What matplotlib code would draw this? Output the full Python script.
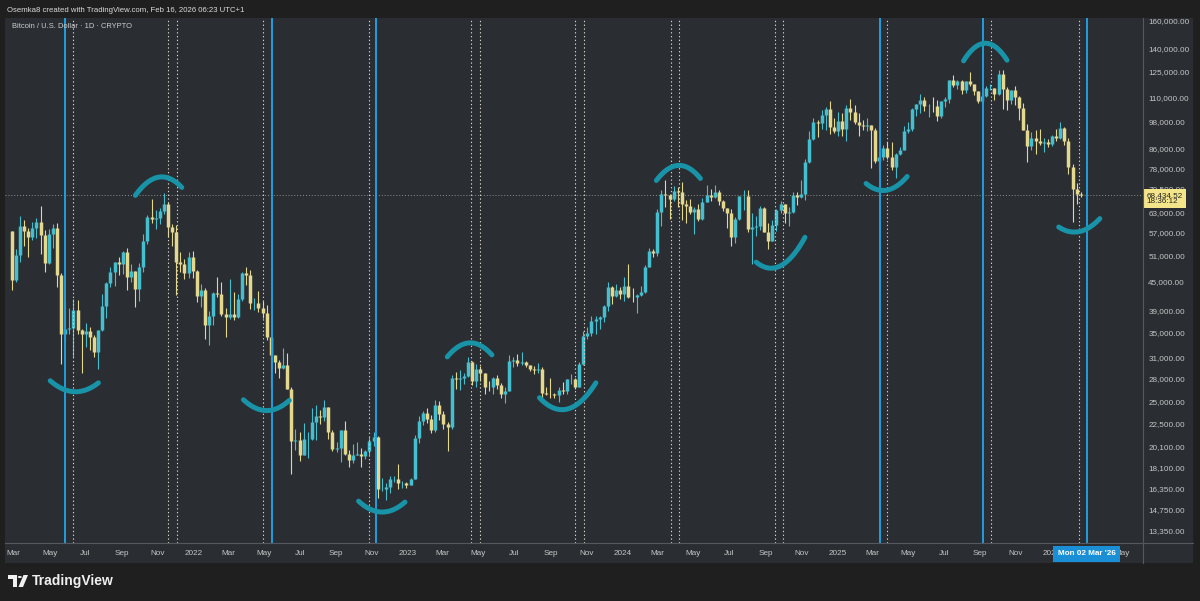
import numpy as np
import pandas as pd
import matplotlib.pyplot as plt
import matplotlib.dates as mdates
from matplotlib.patches import Rectangle, Polygon, Circle
from matplotlib.lines import Line2D
from matplotlib.transforms import blended_transform_factory, ScaledTranslation
from matplotlib.ticker import NullLocator

plt.rcParams['font.family'] = ['Liberation Sans', 'DejaVu Sans']

# weekly BTC candles (week starting Monday)
first_open = 57400
close = [
    # 2021
    45200, 51200, 59000, 57400, 55800, 58200, 60000, 56200, 49100, 56600,
    58200, 46400, 34700, 35700, 35800, 39100, 35500, 34700, 35300, 34300,
    31800, 35400, 39900, 44600, 47100, 49300, 48800, 51800, 46000, 47300,
    43200, 48200, 54800, 61500, 60900, 61300, 63300, 65500, 58600, 57200,
    49400, 48900, 46700, 50700, 47300,
    # 2022
    41800, 43100, 36300, 37900, 42400, 42200, 38400, 37700, 38400, 37800,
    41300, 46800, 46400, 40400, 40400, 39500, 38500, 34300, 31300, 30300,
    29400, 29900, 26600, 20600, 20700, 19300, 20800, 20800, 22600, 23300,
    23200, 24300, 21500, 19800, 19900, 21800, 19400, 18800, 19300, 19400,
    19200, 19600, 20600, 21000, 16300, 16300, 16500, 17100, 17100, 16800,
    16800, 16600,
    # 2023
    17100, 20900, 22700, 23700, 23000, 21800, 24600, 23500, 22400, 22100,
    28000, 27900, 28100, 28300, 30300, 27600, 29300, 28700, 26900, 26800,
    28100, 27100, 25900, 26300, 30500, 30600, 30200, 30300, 29900, 29300,
    29100, 29300, 26100, 26000, 25900, 25800, 26500, 26300, 27900, 27900,
    26900, 30000, 34500, 35000, 37000, 37400, 37700, 39900, 43800, 41900,
    43000, 42300,
    # 2024
    43900, 41700, 41600, 42000, 42600, 48300, 52100, 51700, 63100, 68900,
    68400, 67200, 69700, 69400, 65600, 64900, 63100, 63900, 60800, 66300,
    68500, 67800, 69600, 66600, 64300, 62700, 55900, 60800, 68200, 68200,
    58100, 58700, 58900, 64200, 57300, 54800, 59100, 63600, 65600, 62800,
    62900, 68400, 67900, 68800, 80400, 89800, 97900, 97300, 101200, 104300,
    95200, 93700, 98300,
    # 2025
    94500, 104500, 102600, 97700, 96500, 96100, 96300, 94200, 80700, 82600,
    86100, 82300, 78400, 83700, 85100, 93700, 94300, 104100, 106500, 109000,
    105700, 105700, 105600, 100900, 108400, 109200, 119800, 117300, 119400, 114200,
    119300, 117400, 113500, 108300, 111100, 115300, 115300, 112200, 123500, 115000,
    108600, 114500, 110600, 104700, 94200, 86800, 90400, 89200, 88200, 88500,
    87800, 91500,
    # 2026
    90500, 95000, 89000, 78500, 70500, 68800, 68434.52,
]
high = [
    57500, 52600, 61800, 60600, 58400, 60000, 61300, 64900, 57600, 58000,
    59500, 59600, 46700, 40900, 39500, 41300, 41100, 35700, 36600, 35900,
    34600, 35400, 42300, 44700, 48100, 49300, 50500, 52000, 52900, 48800,
    47300, 49200, 56500, 62000, 67000, 63700, 64300, 69000, 66300, 59400,
    59200, 51900, 50200, 51800, 52100,
    47600, 44400, 43500, 38900, 42600, 45800, 44800, 39500, 45400, 42600,
    42300, 47000, 48200, 47400, 41500, 42900, 40800, 40000, 34300, 31300,
    30600, 32400, 31700, 26900, 21900, 21500, 22500, 21600, 24200, 24600,
    24000, 25200, 24400, 21800, 20500, 21800, 22700, 19700, 20300, 20500,
    19900, 19700, 21000, 21500, 21100, 17200, 16800, 17400, 17400, 18400,
    17000, 16900,
    17200, 21200, 23300, 23900, 24200, 23400, 25200, 25100, 23900, 22600,
    28400, 28900, 29100, 28800, 31000, 30500, 30000, 29800, 28800, 27600,
    28200, 28400, 27400, 26800, 31400, 31000, 31500, 31800, 30400, 29900,
    29700, 30200, 29600, 26800, 28100, 26100, 26900, 27500, 27900, 28600,
    28000, 30300, 35200, 35900, 37900, 37900, 38000, 40000, 44700, 44000,
    44300, 43800,
    45900, 49000, 43600, 42300, 43900, 48600, 52800, 52600, 64000, 70000,
    73800, 68800, 71700, 71300, 72800, 66800, 67200, 64700, 65500, 67400,
    71900, 70600, 71900, 70100, 66900, 63300, 63800, 61400, 68300, 70000,
    70000, 62700, 61800, 65000, 64500, 59800, 60700, 64100, 66500, 65600,
    64500, 69400, 69500, 73600, 81500, 93400, 99600, 98900, 103900, 105200,
    108300, 99900, 102700,
    102300, 106400, 109600, 106400, 102000, 98800, 99500, 96500, 95000, 84300,
    87500, 88800, 88500, 84000, 86400, 95800, 97900, 104900, 106600, 112000,
    110700, 106800, 110500, 108900, 108500, 110500, 119900, 123200, 120200, 120000,
    119300, 124500, 117400, 113500, 113400, 116800, 117900, 115400, 125700, 126200,
    115900, 114500, 116400, 110800, 107400, 96600, 93100, 94100, 94600, 90300,
    90000, 91800,
    94700, 97900, 95500, 90500, 79500, 72500, 69500,
]
low = [
    43000, 44900, 49300, 53300, 50500, 55000, 55500, 51300, 47000, 48800,
    53000, 43800, 30000, 33400, 34800, 31100, 34800, 28800, 32700, 32100,
    31100, 29300, 35200, 37500, 43800, 43900, 46400, 46600, 43000, 44800,
    39600, 40800, 47100, 53900, 59600, 58000, 59400, 62300, 55700, 53300,
    42000, 47100, 45500, 45600, 45700,
    40600, 39700, 34000, 32900, 36300, 41700, 38000, 34300, 37400, 37200,
    37600, 40900, 44200, 39200, 39000, 38700, 37600, 33700, 26700, 28700,
    28000, 29300, 26600, 17600, 19700, 18700, 19300, 19000, 20700, 20700,
    22400, 22700, 20800, 19600, 19500, 18600, 19300, 18200, 18500, 19300,
    18200, 18900, 19300, 20100, 15600, 16200, 15500, 16000, 16900, 16300,
    16400, 16400,
    16600, 17100, 20400, 22300, 22500, 21400, 21500, 22800, 21900, 19600,
    21900, 26600, 26500, 27200, 28200, 27100, 26900, 27700, 25900, 26300,
    25900, 26600, 25400, 24800, 26300, 29600, 29700, 29900, 29600, 29000,
    28600, 28800, 25200, 25800, 25400, 25400, 24900, 26000, 26000, 27200,
    26600, 26900, 29900, 33900, 34500, 34800, 35600, 36900, 38900, 40200,
    41700, 41300,
    40800, 41500, 40700, 38500, 41900, 42500, 48200, 50600, 50900, 59000,
    64600, 60800, 66600, 64500, 60700, 59600, 62400, 56500, 60200, 60700,
    66300, 66600, 67600, 65100, 63400, 58400, 53500, 54300, 60600, 63500,
    57100, 49000, 56100, 57800, 57200, 52500, 54600, 57500, 62700, 59800,
    58900, 62800, 65100, 67500, 66800, 80200, 89400, 90800, 94600, 94200,
    92200, 92600, 91300,
    91200, 89200, 98800, 97000, 91200, 94100, 93400, 78200, 80000, 76600,
    81200, 81600, 77200, 74500, 83100, 85100, 92800, 93400, 100700, 102100,
    103100, 100400, 102700, 98200, 99600, 105100, 107500, 115800, 114700, 112000,
    112700, 116800, 111700, 107300, 107300, 110600, 114400, 108600, 111600, 104000,
    103500, 106800, 106300, 98900, 94000, 80600, 85300, 83800, 87500, 84400,
    86500, 86800,
    89300, 90000, 87300, 76000, 60000, 65500, 67800,
]
weeks = pd.date_range('2021-02-22', periods=len(close), freq='7D')

# cycle markers
cycle_dates = ['2021-05-27', '2022-05-15', '2022-11-08', '2025-03-14', '2025-09-06', '2026-03-02']
dotted_dates = ['2021-06-09', '2021-11-19', '2021-12-04', '2022-04-29', '2022-10-26',
                '2023-04-18', '2023-05-03', '2023-10-13', '2023-10-27', '2024-03-24',
                '2024-04-07', '2024-09-17', '2024-10-01', '2025-03-27', '2025-09-19',
                '2026-02-16']

# hand drawn arcs: (left, middle, right) date and price
arc_dates = [
    ('2021-05-02', '2021-06-16', '2021-07-23'),
    ('2021-09-24', '2021-10-31', '2021-12-12'),
    ('2022-03-27', '2022-05-11', '2022-06-13'),
    ('2022-10-09', '2022-11-15', '2022-12-27'),
    ('2023-03-09', '2023-04-15', '2023-05-24'),
    ('2023-08-13', '2023-09-20', '2023-11-17'),
    ('2024-02-28', '2024-04-04', '2024-05-13'),
    ('2024-08-16', '2024-09-12', '2024-11-07'),
    ('2025-02-19', '2025-03-22', '2025-04-30'),
    ('2025-08-04', '2025-09-05', '2025-10-17'),
    ('2026-01-13', '2026-02-19', '2026-03-24'),
]
arc_prices = [
    (27670, 26230, 27390),
    (68340, 74580, 71040),
    (25220, 23950, 25140),
    (15380, 14590, 15310),
    (31090, 33280, 31390),
    (25470, 24030, 27390),
    (73500, 79070, 74220),
    (49340, 47920, 55710),
    (72430, 70010, 74940),
    (131730, 143280, 132160),
    (58570, 57360, 61030),
]

price_ticks = [13350, 14750, 16350, 18100, 20100, 22500, 25000, 28000, 31000, 35000,
               39000, 45000, 51000, 57000, 63000, 70500, 78000, 86000, 98000, 110000,
               125000, 140000, 160000]
last_price = 68434.52
countdown = '18:36:12'
cursor_label = "Mon 02 Mar '26"
header = 'Osemka8 created with TradingView.com, Feb 16, 2026 06:23 UTC+1'
legend = 'Bitcoin / U.S. Dollar · 1D · CRYPTO'

bg = '#1f1f1f'
panel = '#2a2d32'
up_col = '#45bfcf'
down_col = '#e4d78e'
arc_col = '#1893a7'
cycle_col = '#1f9fe0'
dot_col = '#d8d5c2'
txt_col = '#c6c6c6'

W, H = 1200, 601


def fx(x):
    return x / W


def fy(y):
    return 1 - y / H


fig = plt.figure(figsize=(12, 6.01), dpi=100, facecolor=bg)
fig.patches.append(Rectangle((fx(5), fy(563)), fx(1193 - 5), (563 - 18) / H,
                             transform=fig.transFigure, fc=panel, ec='none', zorder=-1))
ax = fig.add_axes([fx(5), fy(543), fx(1142.7 - 5), (543 - 18) / H])
ax.set_facecolor(panel)
for s in ax.spines.values():
    s.set_visible(False)

# candles
xs = mdates.date2num(weeks) + 3.5
c = np.array(close, dtype=float)
o = np.concatenate([[first_open], c[:-1]])
hi = np.maximum(np.array(high, dtype=float), np.maximum(o, c))
lo = np.minimum(np.array(low, dtype=float), np.minimum(o, c))
cols = np.where(c >= o, up_col, down_col)
ax.vlines(xs, lo, hi, colors=cols, lw=0.8, zorder=2)
ax.vlines(xs, np.minimum(o, c), np.maximum(o, c), colors=cols, lw=2.5, zorder=2)

# vertical markers
for d in cycle_dates:
    ax.axvline(mdates.datestr2num(d), color=cycle_col, lw=1.4, zorder=3)
for d in dotted_dates:
    ax.axvline(mdates.datestr2num(d), color=dot_col, lw=0.8, ls=(0, (1.2, 2.2)), zorder=3)

# current price line
ax.axhline(last_price, color='#8e8e88', lw=0.7, ls=(0, (1, 2)), zorder=1)

# arcs
for ds, ps in zip(arc_dates, arc_prices):
    xa = mdates.datestr2num(list(ds))
    coef = np.polyfit(xa - xa[1], np.log(ps), 2)
    t = np.linspace(xa[0], xa[2], 80)
    ax.plot(t, np.exp(np.polyval(coef, t - xa[1])), color=arc_col, lw=3.6,
            solid_capstyle='round', zorder=4)

ax.set_yscale('log')
ax.set_ylim(12540, 162360)
ax.set_xlim(mdates.datestr2num('2021-02-14'), mdates.datestr2num('2026-06-05'))

ax.yaxis.tick_right()
ax.yaxis.set_minor_locator(NullLocator())
ax.set_yticks(price_ticks)
ax.set_yticklabels([f'{v:,.2f}' for v in price_ticks])
ax.tick_params(axis='y', length=0, pad=4, labelsize=5.9, colors=txt_col)

months = pd.date_range('2021-03-01', '2026-05-01', freq='2MS')
ax.set_xticks(mdates.date2num(months))
ax.set_xticklabels([str(m.year) if m.month == 1 else m.strftime('%b') for m in months])
ax.xaxis.set_minor_locator(NullLocator())
ax.tick_params(axis='x', length=0, pad=5, labelsize=5.9, colors=txt_col)

# price label and cursor label
shift = ScaledTranslation(4 / 100, -3.5 / 100, fig.dpi_scale_trans)
ax.text(1.0, last_price, f'{last_price:,.2f}\n{countdown}',
        transform=blended_transform_factory(ax.transAxes, ax.transData) + shift,
        ha='left', va='center', fontsize=5.9, color='#222222', linespacing=0.95,
        bbox=dict(boxstyle='square,pad=0.35', fc='#f4e58b', ec='none'),
        clip_on=False, zorder=6)
ax.text(mdates.datestr2num('2026-03-02'), -0.0205, cursor_label,
        transform=blended_transform_factory(ax.transData, ax.transAxes),
        ha='center', va='center', fontsize=5.9, color='white', fontweight='bold',
        bbox=dict(boxstyle='square,pad=0.55', fc='#1a8fd6', ec='none'),
        clip_on=False, zorder=6)

# separators
fig.add_artist(Line2D([fx(1142.7)] * 2, [fy(18), fy(563)], transform=fig.transFigure,
                      color='#55585e', lw=0.8))
fig.add_artist(Line2D([fx(5), fx(1193)], [fy(543)] * 2, transform=fig.transFigure,
                      color='#55585e', lw=0.8))

# header texts
fig.text(fx(7), fy(10), header, ha='left', va='center', fontsize=5.6, color='#dcdcdc')
fig.text(fx(12), fy(26.5), legend, ha='left', va='center', fontsize=5.4, color='#cfcfcf')

# TradingView logo
logo = '#f0f0f0'
fig.add_artist(Polygon([(fx(8), fy(575)), (fx(17), fy(575)), (fx(17), fy(587)),
                        (fx(13), fy(587)), (fx(13), fy(579)), (fx(8), fy(579))],
                       closed=True, transform=fig.transFigure, fc=logo, ec='none'))
fig.add_artist(Circle((fx(19.8), fy(577)), fx(2.0), transform=fig.transFigure,
                      fc=logo, ec='none'))
fig.add_artist(Polygon([(fx(23.5), fy(575)), (fx(28), fy(575)), (fx(23), fy(587)),
                        (fx(18.5), fy(587))],
                       closed=True, transform=fig.transFigure, fc=logo, ec='none'))
fig.text(fx(32), fy(581), 'TradingView', ha='left', va='center', fontsize=10,
         color=logo, fontweight='bold')

fig.savefig('out.png', dpi=100, facecolor=bg)
